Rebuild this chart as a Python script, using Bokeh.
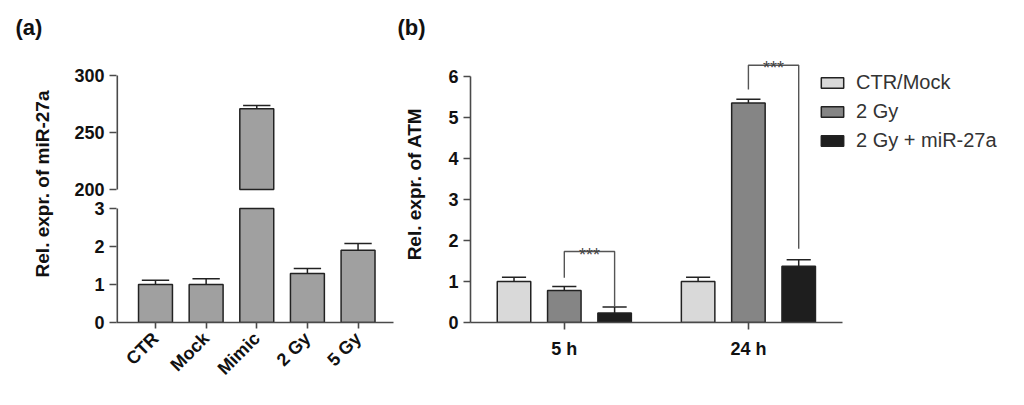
import numpy as np
from math import pi
from bokeh.plotting import figure
from bokeh.layouts import row
from bokeh.models import Range1d, FixedTicker
from bokeh.embed import file_html
from bokeh.resources import INLINE
from bokeh.core.properties import value

# ---------------- data: panel (a) ----------------
mir_categories = ["CTR", "Mock", "Mimic", "2 Gy", "5 Gy"]
mir_mean = [1.0, 1.0, 270.9, 1.29, 1.90]
mir_err = [0.11, 0.15, 2.8, 0.13, 0.18]
mir_ticks_low = [0, 1, 2, 3]
mir_ticks_high = [200, 250, 300]

# ---------------- data: panel (b) ----------------
atm_groups = ["5 h", "24 h"]
atm_series = ["CTR/Mock", "2 Gy", "2 Gy + miR-27a"]
atm_ctr = [1.0, 1.0]
atm_2gy = [0.78, 5.35]
atm_mir = [0.23, 1.37]
atm_ctr_err = [0.10, 0.10]
atm_2gy_err = [0.10, 0.09]
atm_mir_err = [0.15, 0.16]
atm_ticks = [0, 1, 2, 3, 4, 5, 6]
# significance brackets: 2 Gy vs 2 Gy + miR-27a
sig_labels = ["***", "***"]
sig_top = [1.73, 6.27]
sig_left_end = [1.09, 5.68]
sig_right_end = [0.39, 1.80]

# ---------------- style ----------------
FONT = "Liberation Sans"
AXC = "#4a4a4a"
EDGE = "#222222"
A_FILL = "#a0a0a0"
B_FILLS = ["#d9d9d9", "#858585", "#1e1e1e"]

FRAME_H = 277
BORDER_TOP = 45
BORDER_BOTTOM = 66


def style_axes(p):
    for ax in p.axis:
        ax.axis_line_color = AXC
        ax.axis_line_width = 1.6
        ax.major_tick_line_color = AXC
        ax.major_tick_line_width = 1.6
        ax.major_tick_out = 7
        ax.major_tick_in = 0
        ax.minor_tick_line_color = None
        ax.major_label_text_font = FONT
        ax.major_label_text_font_style = "bold"
        ax.major_label_text_font_size = "18px"
        ax.major_label_text_color = "#111111"
        ax.axis_label_text_font = FONT
        ax.axis_label_text_font_style = "bold"
        ax.axis_label_text_font_size = "19px"
        ax.axis_label_text_color = "#111111"
    p.xgrid.visible = False
    p.ygrid.visible = False
    p.outline_line_color = None
    p.title.text_font = FONT
    p.title.text_font_style = "bold"
    p.title.text_font_size = "22px"
    p.title.text_color = "#111111"
    p.title.align = "left"
    p.title.standoff = 11


# ================= panel (a): broken y axis =================
LOW_MAX = mir_ticks_low[-1]
HIGH_MIN, HIGH_MAX = mir_ticks_high[0], mir_ticks_high[-1]
GAP = 0.5           # break gap, in lower-segment units
HIGH_LEN = 3.0      # length of upper segment, in lower-segment units
AXIS_TOP = LOW_MAX + GAP + HIGH_LEN          # where 300 sits
PX_PER_UNIT_A = 247 / AXIS_TOP
LOW_RANGE_END = FRAME_H / PX_PER_UNIT_A
hi_start = HIGH_MIN - (LOW_MAX + GAP) * (HIGH_MAX - HIGH_MIN) / HIGH_LEN
hi_scale = (HIGH_MAX - hi_start) / AXIS_TOP   # upper units per lower unit
hi_end = hi_start + LOW_RANGE_END * hi_scale


def to_low(v):
    return (v - hi_start) / hi_scale


xa0, xa1 = -0.77, 4.70
pa = figure(frame_width=277, frame_height=FRAME_H,
            min_border_left=116, min_border_right=5,
            min_border_top=BORDER_TOP, min_border_bottom=BORDER_BOTTOM,
            x_range=Range1d(xa0, xa1), y_range=Range1d(0, LOW_RANGE_END),
            output_backend="svg", toolbar_location=None, title="(a)")
pa.extra_y_ranges = {"hi": Range1d(hi_start, hi_end)}

xa = np.arange(len(mir_categories), dtype=float)
ma = np.array(mir_mean)
ea = np.array(mir_err)
BW_A = 0.67
CAP_A = 0.27

# lower segment bars
pa.vbar(x=xa, top=np.minimum(ma, LOW_MAX), bottom=0, width=BW_A,
        fill_color=A_FILL, line_color=EDGE, line_width=1.5)
# upper segment bars
hi = ma > HIGH_MIN
pa.vbar(x=xa[hi], top=ma[hi], bottom=HIGH_MIN, width=BW_A,
        fill_color=A_FILL, line_color=EDGE, line_width=1.5, y_range_name="hi")
# error bars
lo = ma <= LOW_MAX
pa.segment(x0=xa[lo], y0=ma[lo], x1=xa[lo], y1=ma[lo] + ea[lo], line_color=EDGE, line_width=1.5)
pa.segment(x0=xa[lo] - CAP_A, y0=ma[lo] + ea[lo], x1=xa[lo] + CAP_A, y1=ma[lo] + ea[lo],
           line_color=EDGE, line_width=1.5)
pa.segment(x0=xa[hi], y0=ma[hi], x1=xa[hi], y1=ma[hi] + ea[hi], line_color=EDGE,
           line_width=1.5, y_range_name="hi")
pa.segment(x0=xa[hi] - CAP_A, y0=ma[hi] + ea[hi], x1=xa[hi] + CAP_A, y1=ma[hi] + ea[hi],
           line_color=EDGE, line_width=1.5, y_range_name="hi")
# broken axis line (two pieces)
pa.segment(x0=[xa0], y0=[mir_ticks_low[0]], x1=[xa0], y1=[LOW_MAX], line_color=AXC, line_width=3.2)
pa.segment(x0=[xa0], y0=[HIGH_MIN], x1=[xa0], y1=[HIGH_MAX], line_color=AXC, line_width=3.2,
           y_range_name="hi")

style_axes(pa)
pa.title.offset = -101
ya = pa.yaxis[0]
ya.axis_line_color = None
tick_pos = [float(t) for t in mir_ticks_low] + [float(round(to_low(t), 6)) for t in mir_ticks_high]
tick_lab = [str(t) for t in mir_ticks_low] + [str(t) for t in mir_ticks_high]
ya.ticker = FixedTicker(ticks=tick_pos)
ya.major_label_overrides = {p_: l_ for p_, l_ in zip(tick_pos, tick_lab)}
ya.major_label_standoff = 5
ya.axis_label = "Rel. expr. of miR-27a"
ya.axis_label_standoff = 18

xaax = pa.xaxis[0]
xaax.ticker = FixedTicker(ticks=list(xa))
xaax.major_label_overrides = {float(i): c for i, c in zip(xa, mir_categories)}
xaax.major_label_orientation = pi / 4
xaax.major_label_standoff = 7
xaax.major_tick_out = 6

# ================= panel (b) =================
GROUP_GAP = 3.66
group_x = np.array([0.0, GROUP_GAP])
BW_B = 0.666
CAP_B = 0.24
xb0 = -1.865
xb1 = xb0 + 542 / 50.3
pb = figure(frame_width=542, frame_height=FRAME_H,
            min_border_left=72, min_border_right=4,
            min_border_top=BORDER_TOP, min_border_bottom=BORDER_BOTTOM,
            x_range=Range1d(xb0, xb1), y_range=Range1d(0, 6.75),
            output_backend="svg", toolbar_location=None, title="(b)")

series_vals = [atm_ctr, atm_2gy, atm_mir]
series_errs = [atm_ctr_err, atm_2gy_err, atm_mir_err]
for k, (name, vals, errs) in enumerate(zip(atm_series, series_vals, series_errs)):
    xs = group_x + (k - 1)
    v = np.array(vals)
    e = np.array(errs)
    pb.vbar(x=xs, top=v, bottom=0, width=BW_B, fill_color=B_FILLS[k],
            line_color=EDGE, line_width=1.5, legend_label=name)
    pb.segment(x0=xs, y0=v, x1=xs, y1=v + e, line_color=EDGE, line_width=1.5)
    pb.segment(x0=xs - CAP_B, y0=v + e, x1=xs + CAP_B, y1=v + e, line_color=EDGE, line_width=1.5)

# significance brackets
bl = group_x + 0.0
br = group_x + 1.0
pb.multi_line(xs=[[a, a, b, b] for a, b in zip(bl, br)],
              ys=[[l, t, t, r] for l, t, r in zip(sig_left_end, sig_top, sig_right_end)],
              line_color="#555555", line_width=1.4)
pb.text(x=(bl + br) / 2, y=sig_top, text=sig_labels, text_align="center",
        text_baseline="alphabetic", y_offset=3, text_font=value(FONT), text_font_size="18px",
        text_color="#444444")

style_axes(pb)
pb.title.offset = -73
yb = pb.yaxis[0]
yb.bounds = (0, 6)
yb.ticker = FixedTicker(ticks=atm_ticks)
yb.major_label_standoff = 5
yb.axis_label = "Rel. expr. of ATM"
yb.axis_label_standoff = 20

xbax = pb.xaxis[0]
xbax.bounds = (xb0, GROUP_GAP + 1 + 0.875)
xbax.ticker = FixedTicker(ticks=list(group_x))
xbax.major_label_overrides = {float(g): n for g, n in zip(group_x, atm_groups)}
xbax.major_label_standoff = 9
xbax.major_tick_out = 7

lg = pb.legend[0]
lg.location = (348, 170)
lg.border_line_color = None
lg.background_fill_alpha = 0
lg.padding = 0
lg.margin = 0
lg.glyph_width = 28
lg.glyph_height = 13
lg.label_height = 13
lg.label_standoff = 10
lg.spacing = 6
lg.label_text_font = FONT
lg.label_text_font_size = "20px"
lg.label_text_color = "#333333"

layout = row(pa, pb)
open("out.html", "w").write(file_html(layout, INLINE))
